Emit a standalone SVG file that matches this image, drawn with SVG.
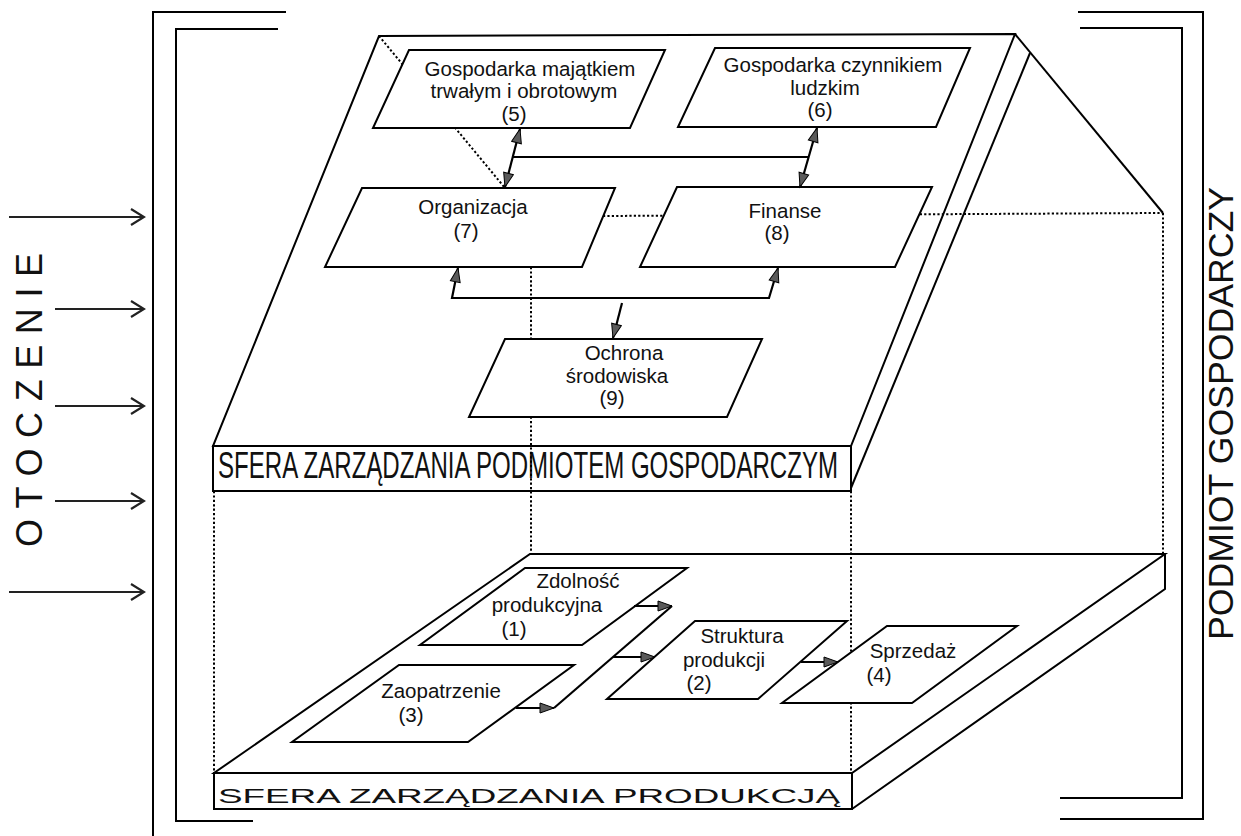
<svg xmlns="http://www.w3.org/2000/svg" width="1241" height="836" viewBox="0 0 1241 836">
<defs>
<style>
.ln{fill:none;stroke:#000;stroke-width:2;stroke-linejoin:miter}
.face{fill:#fff;stroke:#000;stroke-width:2;stroke-linejoin:miter}
.box{fill:#fff;stroke:#000;stroke-width:2;stroke-linejoin:miter}
.dot{fill:none;stroke:#000;stroke-width:2;stroke-dasharray:2.2 2.2}
.t{font-family:"Liberation Sans",Arial,sans-serif;font-size:20.5px;fill:#111;text-anchor:middle}
.big{font-family:"Liberation Sans",Arial,sans-serif;fill:#111}
.con{fill:none;stroke:#000;stroke-width:2.2}
.in{fill:none;stroke:#222;stroke-width:2.2}
</style>
<marker id="ah" markerUnits="userSpaceOnUse" markerWidth="17" markerHeight="13" refX="15" refY="6" orient="auto-start-reverse" viewBox="0 0 17 13"><path d="M1,1 L15,6 L1,11 Z" fill="#5a5a5a" stroke="#000" stroke-width="1"/></marker>
<marker id="oh" markerUnits="userSpaceOnUse" markerWidth="16" markerHeight="20" refX="14" refY="9" orient="auto" viewBox="0 0 16 20"><path d="M1,1 L14,9 L1,17" fill="none" stroke="#222" stroke-width="2.2"/></marker>
</defs>
<rect width="1241" height="836" fill="#fff"/>

<g id="brackets">
<path class="ln" d="M286,12 H153 V836"/>
<path class="ln" d="M278,29 H176 V821 H253"/>
<path class="ln" d="M1078,12 H1203 V819 H1060"/>
<path class="ln" d="M1080,28 H1182 V798 H1060"/>
</g>

<g id="side-labels">
<text class="big" font-size="36" transform="translate(41.5,547) rotate(-90)" textLength="294" lengthAdjust="spacing">OTOCZENIE</text>
<text class="big" font-size="35" transform="translate(1233,640) rotate(-90)" textLength="453" lengthAdjust="spacingAndGlyphs">PODMIOT GOSPODARCZY</text>
</g>

<g id="environment-arrows">
<line class="in" x1="9" y1="217" x2="144" y2="217" marker-end="url(#oh)"/>
<line class="in" x1="55" y1="309" x2="144" y2="309" marker-end="url(#oh)"/>
<line class="in" x1="55" y1="406" x2="144" y2="406" marker-end="url(#oh)"/>
<line class="in" x1="55" y1="501" x2="144" y2="501" marker-end="url(#oh)"/>
<line class="in" x1="9" y1="592" x2="144" y2="592" marker-end="url(#oh)"/>
</g>

<g id="slab-top">
<polygon class="face" points="379,36 1015,34 851,446 213,446"/>
<line class="ln" x1="851" y1="488" x2="1030" y2="53"/>
<line class="ln" x1="1015" y1="34" x2="1163" y2="213"/>
<rect class="face" x="213" y="446" width="638" height="45"/>
<text class="big" x="218" y="478" font-size="36" textLength="620" lengthAdjust="spacingAndGlyphs">SFERA ZARZĄDZANIA PODMIOTEM GOSPODARCZYM</text>
</g>

<g id="slab-bottom">
<polygon class="face" points="530,554 1165,554 852,773 214,773"/>
<path class="ln" d="M852,809 L1165,589 V554"/>
<rect class="face" x="214" y="773" width="638" height="36"/>
<text class="big" x="218" y="803" font-size="21" textLength="622" lengthAdjust="spacingAndGlyphs">SFERA ZARZĄDZANIA PRODUKCJĄ</text>
</g>

<g id="hidden-edges">
<line class="dot" x1="379" y1="36" x2="505" y2="188"/>
<line class="dot" x1="531" y1="267" x2="531" y2="554"/>
<line class="dot" x1="603" y1="216" x2="1163" y2="213"/>
<line class="dot" x1="1163" y1="213" x2="1163" y2="554"/>
<line class="dot" x1="214" y1="491" x2="214" y2="773"/>
<line class="dot" x1="851" y1="491" x2="851" y2="773"/>
</g>

<g id="n5">
<polygon class="box" points="409,50 665,50 630,128 373,128"/>
<text class="t" x="530" y="76">Gospodarka majątkiem</text>
<text class="t" x="524" y="98">trwałym i obrotowym</text>
<text class="t" x="514" y="121">(5)</text>
</g>
<g id="n6">
<polygon class="box" points="715,48 970,48 936,127 678,127"/>
<text class="t" x="833" y="72">Gospodarka czynnikiem</text>
<text class="t" x="825" y="95">ludzkim</text>
<text class="t" x="820" y="117">(6)</text>
</g>
<g id="n7">
<polygon class="box" points="362,188 615,188 582,267 325,267"/>
<text class="t" x="473" y="214">Organizacja</text>
<text class="t" x="466" y="238">(7)</text>
</g>
<g id="n8">
<polygon class="box" points="677,187 932,187 895,267 640,267"/>
<text class="t" x="785" y="218">Finanse</text>
<text class="t" x="777" y="240">(8)</text>
</g>
<g id="n9">
<polygon class="box" points="505,339 762,339 727,417 469,417"/>
<text class="t" x="624" y="360">Ochrona</text>
<text class="t" x="617" y="383">środowiska</text>
<text class="t" x="612" y="405">(9)</text>
</g>
<g id="n1">
<polygon class="box" points="525,568 687,568 582,645 420,645"/>
<text class="t" x="578" y="588">Zdolność</text>
<text class="t" x="547" y="612">produkcyjna</text>
<text class="t" x="514" y="636">(1)</text>
</g>
<g id="n3">
<polygon class="box" points="399,665 574,665 468,742 292,742"/>
<text class="t" x="441" y="698">Zaopatrzenie</text>
<text class="t" x="411" y="722">(3)</text>
</g>
<g id="n2">
<polygon class="box" points="695,621 847,621 758,699 607,699"/>
<text class="t" x="742" y="643">Struktura</text>
<text class="t" x="724" y="667">produkcji</text>
<text class="t" x="699" y="690">(2)</text>
</g>
<g id="n4">
<polygon class="box" points="887,626 1017,626 912,703 782,703"/>
<text class="t" x="913" y="658">Sprzedaż</text>
<text class="t" x="879" y="682">(4)</text>
</g>

<g id="connectors">
<line class="con" x1="520" y1="129" x2="505" y2="187" marker-start="url(#ah)" marker-end="url(#ah)"/>
<line class="con" x1="817" y1="128" x2="800" y2="187" marker-start="url(#ah)" marker-end="url(#ah)"/>
<line class="con" x1="513" y1="157" x2="808" y2="157"/>
<path class="con" d="M458,268 L452,298 L769,298 L778,268" marker-start="url(#ah)" marker-end="url(#ah)"/>
<line class="con" x1="622" y1="303" x2="613" y2="338" marker-end="url(#ah)"/>
<line class="con" x1="634" y1="606" x2="672" y2="606" marker-end="url(#ah)"/>
<line class="con" x1="516" y1="708" x2="554" y2="708" marker-end="url(#ah)"/>
<line class="con" x1="554" y1="708" x2="672" y2="606"/>
<line class="con" x1="613" y1="657" x2="655" y2="657" marker-end="url(#ah)"/>
<line class="con" x1="801" y1="662" x2="838" y2="662" marker-end="url(#ah)"/>
</g>
</svg>
